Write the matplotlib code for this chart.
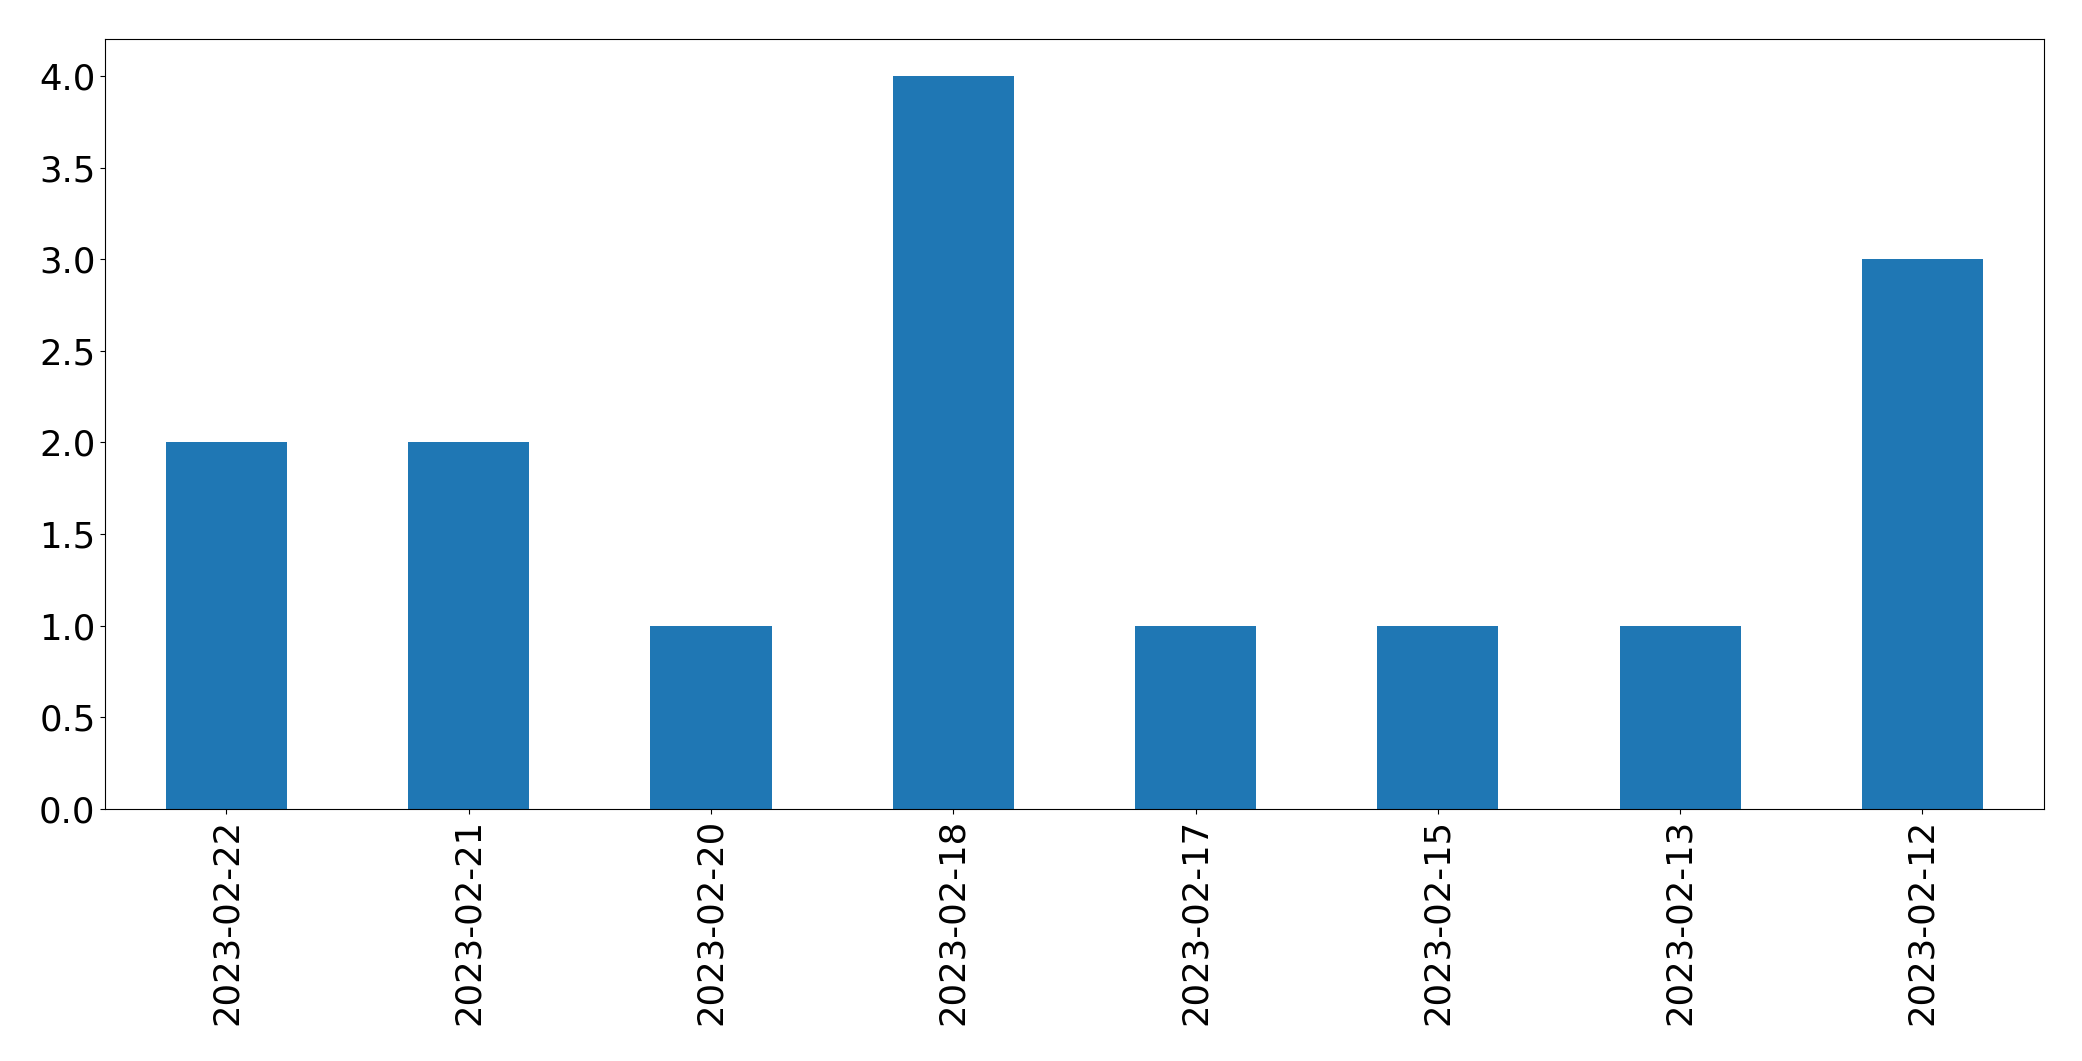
import matplotlib
matplotlib.use("Agg")
import matplotlib.pyplot as plt

dates = ["2023-02-22", "2023-02-21", "2023-02-20", "2023-02-18",
         "2023-02-17", "2023-02-15", "2023-02-13", "2023-02-12"]
counts = [2, 2, 1, 4, 1, 1, 1, 3]

fig = plt.figure(figsize=(20.82, 10.61), dpi=100)
W, H = 2082, 1061
left, right, top, bottom = 105.3, 2043.5, 39.3, 809
ax = fig.add_axes([left / W, 1 - bottom / H, (right - left) / W, (bottom - top) / H])
x = list(range(len(dates)))
ax.bar(x, counts, width=0.5, color="#1f77b4")
ax.set_xlim(-0.5, len(dates) - 0.5)
ax.set_ylim(0, 4.2)
ax.set_xticks(x)
ax.set_xticklabels(dates, rotation=90)
ax.set_yticks([0, 0.5, 1, 1.5, 2, 2.5, 3, 3.5, 4])
ax.set_yticklabels(["0.0", "0.5", "1.0", "1.5", "2.0", "2.5", "3.0", "3.5", "4.0"])
ax.tick_params(labelsize=25.6)
fig.savefig("out.png", dpi=100)
